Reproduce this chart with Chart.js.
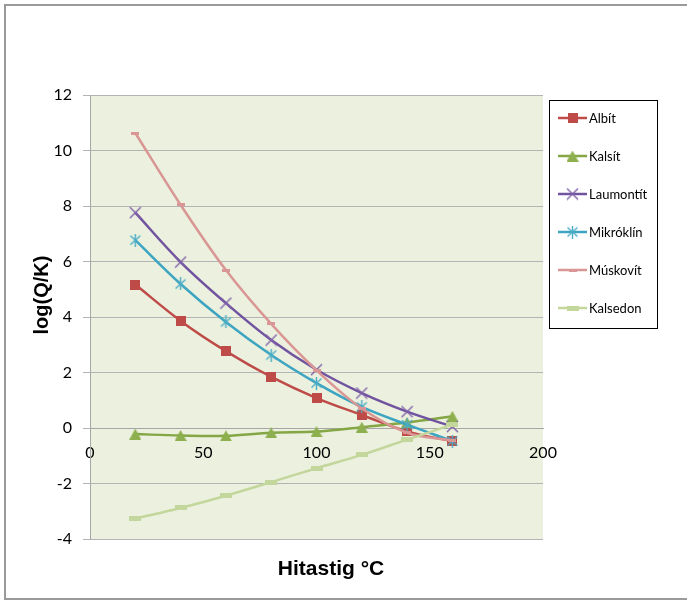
<!DOCTYPE html>
<html>
<head>
<meta charset="utf-8">
<script src="https://cdn.jsdelivr.net/npm/chart.js@4"></script>
<style>
  html, body { margin: 0; padding: 0; background: #fff; }
  #wrap { width: 687px; height: 601px; }
</style>
</head>
<body>
<div id="wrap"><canvas id="LOGQK" width="687" height="601"></canvas></div>
<script>
// temperature (°C)
const temps = [20, 40, 60, 80, 100, 120, 140, 160];

// log(Q/K) per mineral
const albit     = [5.17, 3.86, 2.77, 1.84, 1.08, 0.47, -0.12, -0.48];
const kalsit    = [-0.22, -0.27, -0.28, -0.17, -0.13, 0.03, 0.2, 0.42];
const laumontit = [7.76, 5.98, 4.5, 3.17, 2.1, 1.26, 0.59, 0.05];
const mikroklin = [6.77, 5.19, 3.82, 2.63, 1.62, 0.76, 0.12, -0.47];
const muskovit  = [10.63, 8.04, 5.69, 3.75, 2.08, 0.7, -0.17, -0.45];
const kalsedon  = [-3.26, -2.88, -2.44, -1.95, -1.45, -0.97, -0.42, 0.12];

const names = ['Albít', 'Kalsít', 'Laumontít', 'Mikróklín', 'Múskovít', 'Kalsedon'];
const yTicks = [12, 10, 8, 6, 4, 2, 0, -2, -4];

// little canvases used as marker images
function marker(w, h, draw) {
    let c = document.createElement('canvas');
    c.width = w;
    c.height = h;
    draw(c.getContext('2d'));
    return c;
}

const mkSquare = marker(10, 10, g => { g.fillStyle = '#BE4B48'; g.fillRect(0, 0, 10, 10); });
const mkTri = marker(12, 11, g => {
    g.fillStyle = '#8DAF4E';
    g.beginPath(); g.moveTo(6, 0); g.lineTo(12, 11); g.lineTo(0, 11); g.closePath(); g.fill();
});
const mkX = marker(13, 13, g => {
    g.strokeStyle = '#7D60A8'; g.lineWidth = 1.4;
    g.beginPath(); g.moveTo(1, 1); g.lineTo(12, 12); g.moveTo(12, 1); g.lineTo(1, 12); g.stroke();
});
const mkStar = marker(13, 13, g => {
    g.strokeStyle = '#4BACC6'; g.lineWidth = 1.4;
    g.beginPath(); g.moveTo(1.5, 2); g.lineTo(11.5, 11); g.moveTo(11.5, 2); g.lineTo(1.5, 11);
    g.moveTo(6.5, 0); g.lineTo(6.5, 13); g.stroke();
});
const mkDash = marker(8, 3, g => { g.fillStyle = '#D99694'; g.fillRect(0, 0, 8, 3); });
const mkBar = marker(12, 5, g => { g.fillStyle = '#C3D69B'; g.fillRect(0, 0, 12, 5); });

const values = [albit, kalsit, laumontit, mikroklin, muskovit, kalsedon];
const lineColors = ['#BE4B48', '#84A644', '#7153A0', '#3DA4C1', '#D99694', '#C3D69B'];
const markers = [mkSquare, mkTri, mkX, mkStar, mkDash, mkBar];

const sheetDecor = {
    id: 'sheetDecor',
    beforeDraw(chart) {
        let c = chart.ctx, a = chart.chartArea;
        c.save();
        c.fillStyle = '#fff';
        c.fillRect(0, 0, chart.width, chart.height);
        c.strokeStyle = '#9A9A9A';
        c.lineWidth = 2;
        c.strokeRect(5, 5, 720, 594);
        c.fillStyle = '#EBF1DE';
        c.fillRect(a.left, a.top, a.right - a.left, a.bottom - a.top);
        c.restore();
    },
    afterDraw(chart) {
        let c = chart.ctx;
        c.save();
        // axis titles
        c.fillStyle = '#000';
        c.font = 'bold 21px "Liberation Sans", Arial, sans-serif';
        c.textAlign = 'center';
        c.textBaseline = 'alphabetic';
        c.fillText('Hitastig °C', 331, 575);
        c.translate(48, 295);
        c.rotate(-Math.PI / 2);
        c.font = 'bold 20px "Liberation Sans", Arial, sans-serif';
        c.fillText('log(Q/K)', 0, 0);
        c.restore();

        // legend box
        c.save();
        c.strokeStyle = '#000';
        c.lineWidth = 1;
        c.strokeRect(549.5, 100.5, 108, 228);
        c.font = '13px Lato, sans-serif';
        c.textBaseline = 'middle';
        c.textAlign = 'left';
        chart.data.datasets.forEach((ds, i) => {
            let y = 118 + i * 38;
            c.strokeStyle = ds.borderColor;
            c.lineWidth = ds.borderWidth;
            c.beginPath(); c.moveTo(558, y); c.lineTo(587, y); c.stroke();
            let m = ds.pointStyle;
            c.drawImage(m, 572.5 - m.width / 2, y - m.height / 2);
            c.fillStyle = '#000';
            c.fillText(ds.label, 589, y + 1);
        });
        c.restore();
    }
};

let ctx = document.getElementById('LOGQK');

let chart = new Chart(ctx, {
    type: 'line',
    data: {
        datasets: names.map((n, i) => ({
            label: n,
            data: temps.map((t, j) => ({ x: t, y: values[i][j] })),
            borderColor: lineColors[i],
            backgroundColor: lineColors[i],
            borderWidth: 2.5,
            tension: 0.35,
            pointStyle: markers[i],
            pointRadius: 6,
            order: 6 - i
        }))
    },
    options: {
        responsive: false,
        animation: false,
        devicePixelRatio: 1,
        layout: {
            padding: { left: 0, top: 95, right: 144, bottom: 62 }
        },
        scales: {
            x: {
                type: 'linear',
                position: { y: 0 },
                min: 0,
                max: 200,
                ticks: {
                    stepSize: 50,
                    color: '#000',
                    padding: 7,
                    font: { family: 'Lato', size: 16 }
                },
                grid: { display: false },
                border: { display: true, color: '#A6A6A6', width: 1 }
            },
            y: {
                min: -4,
                max: 12,
                afterFit: (s) => { s.width = 90; },
                afterBuildTicks: (s) => { s.ticks = yTicks.map(v => ({ value: v })); },
                ticks: {
                    color: '#000',
                    padding: 11,
                    font: { family: 'Lato', size: 16 }
                },
                grid: { color: '#B4B4B4', lineWidth: 1, tickLength: 7 },
                border: { display: true, color: '#A6A6A6', width: 1 }
            }
        },
        plugins: {
            legend: { display: false },
            tooltip: { enabled: false }
        }
    },
    plugins: [sheetDecor]
});
</script>
</body>
</html>
